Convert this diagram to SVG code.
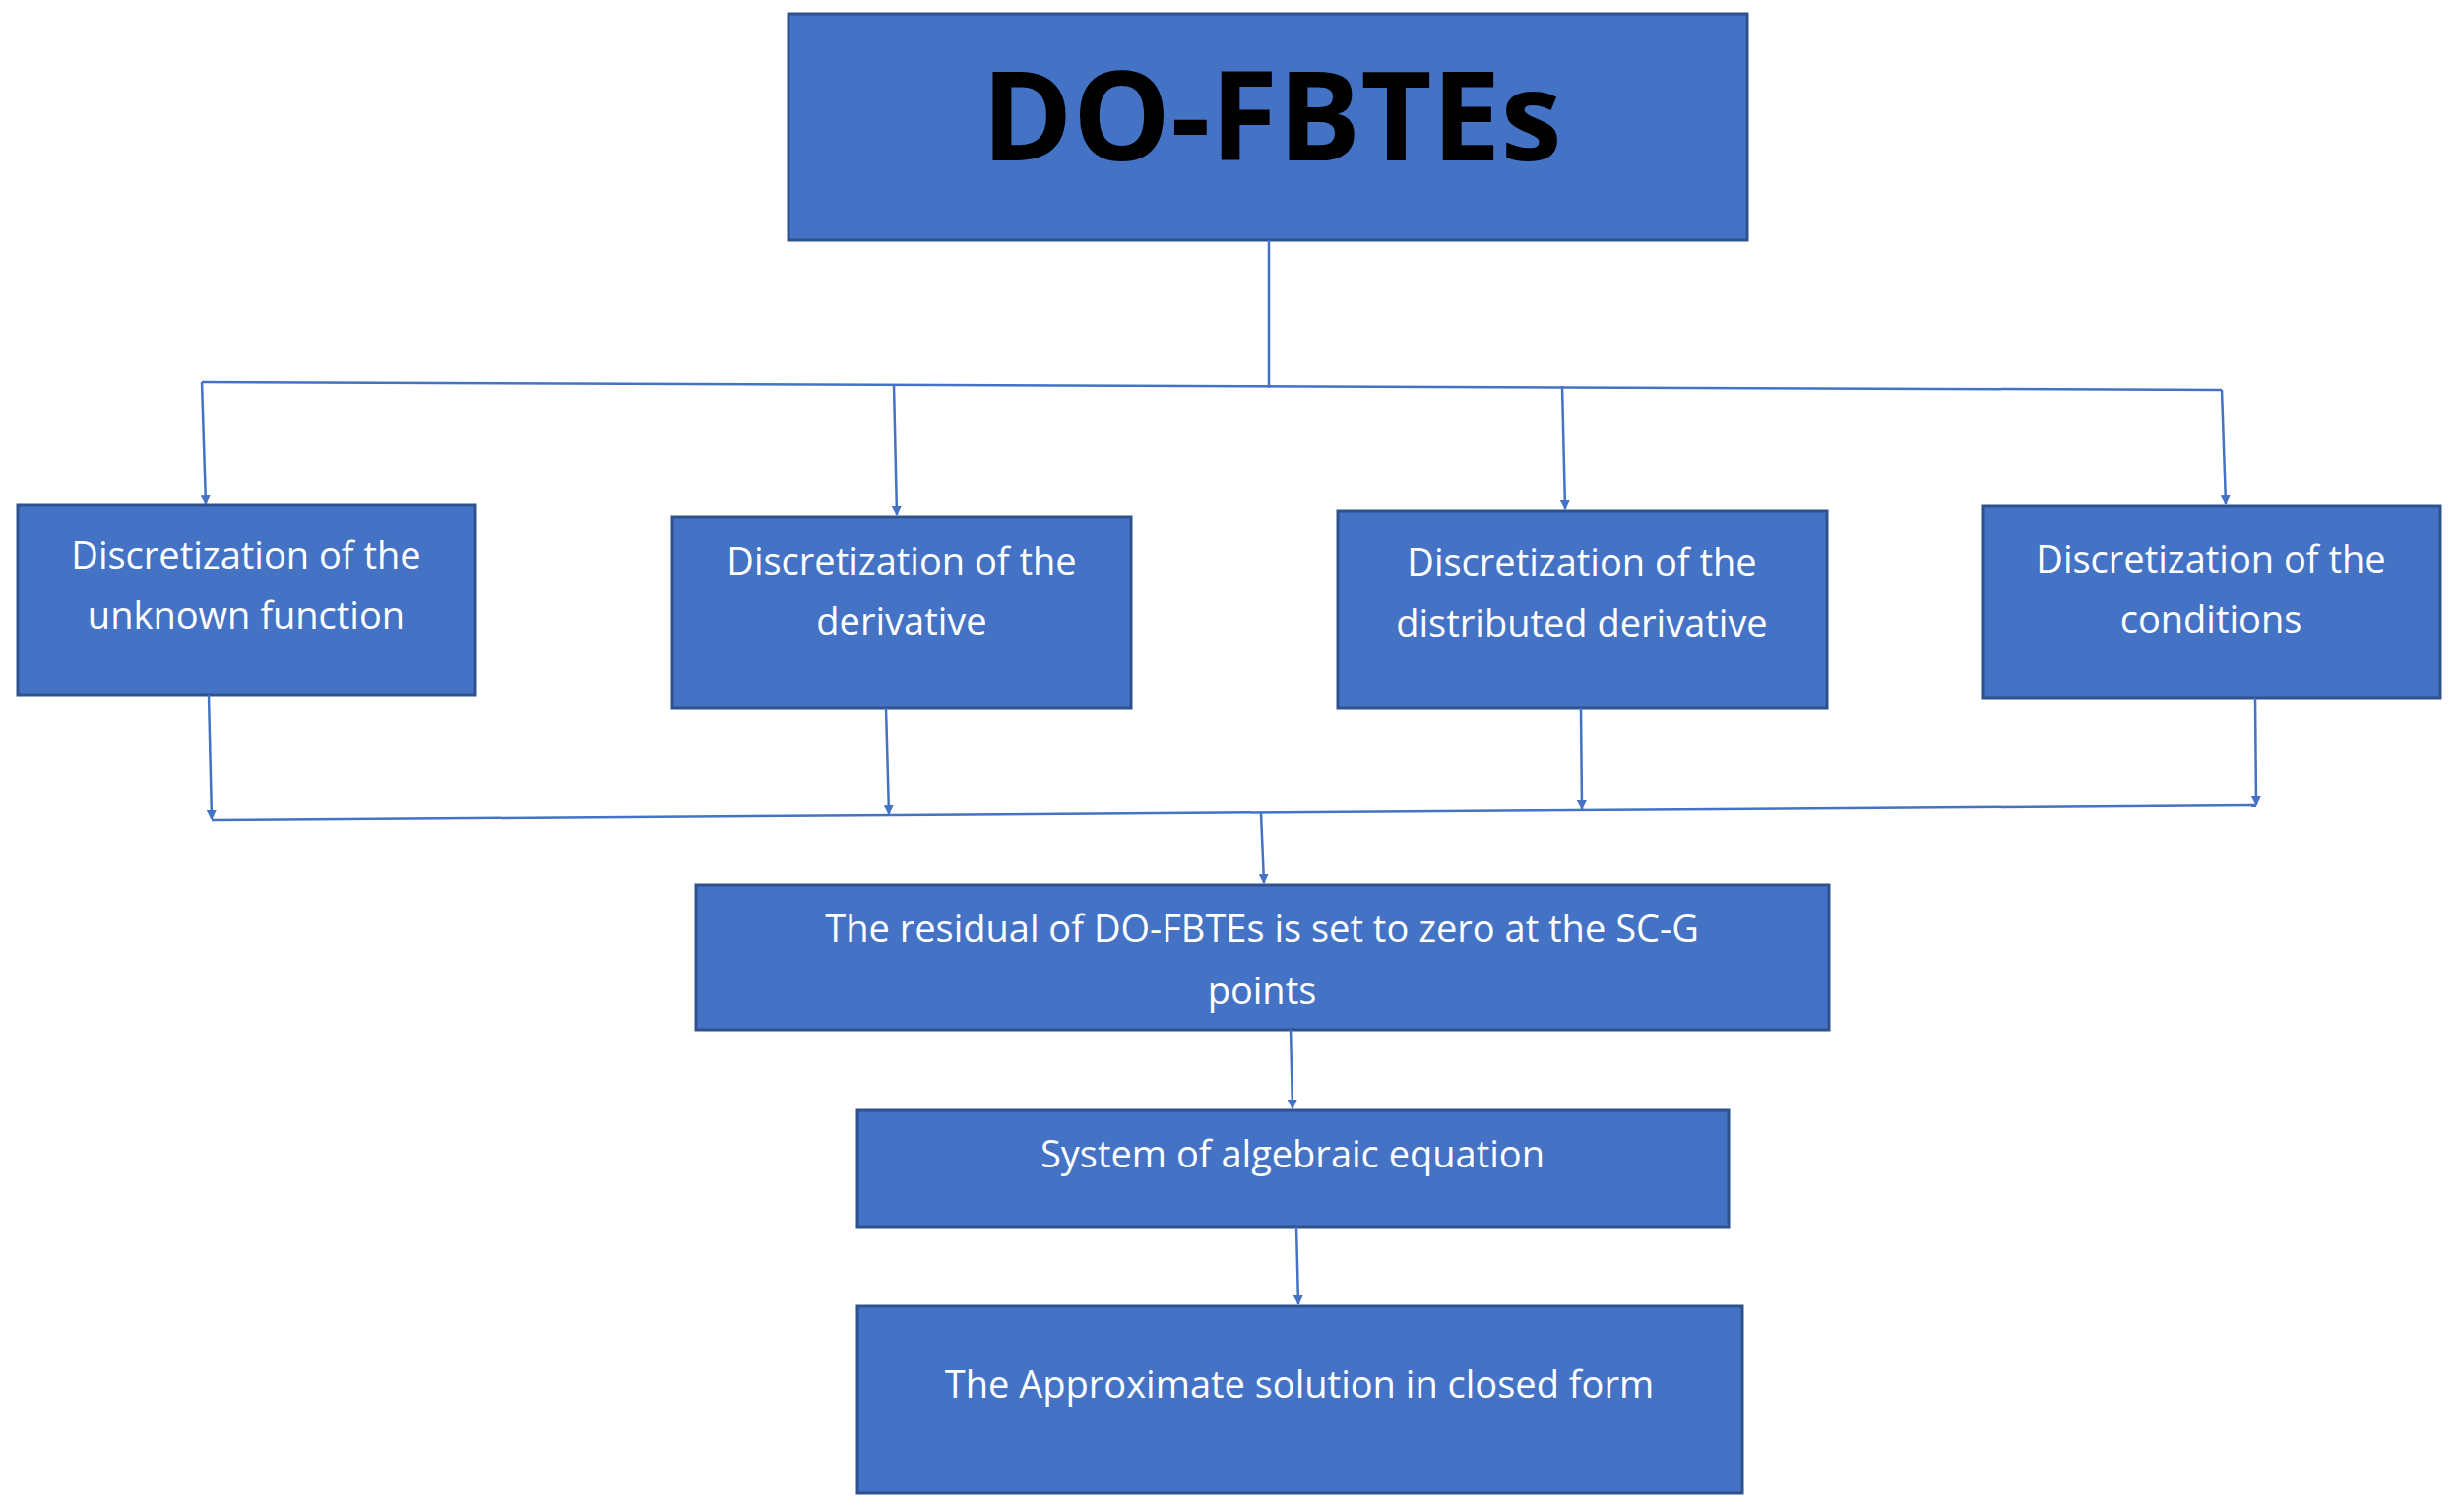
<svg xmlns="http://www.w3.org/2000/svg" width="2498" height="1536" viewBox="0 0 2498 1536">
<style>
.b{fill:#4472C4;stroke:#2F528F;stroke-width:3}
.t{fill:#fff;font-family:"Open Sans","Liberation Sans",sans-serif;font-size:38px;text-anchor:middle}
.c{stroke:#4472C4;stroke-width:2.5;fill:none}
</style>
<defs><marker id="a" markerWidth="10" markerHeight="10" refX="9" refY="5" orient="auto" markerUnits="userSpaceOnUse" viewBox="0 0 10 10"><path d="M0,0L10,5L0,10z" fill="#4472C4"/></marker></defs>
<rect width="2498" height="1536" fill="#fff"/>
<g id="n0"><rect class="b" x="801" y="14" width="974" height="230"/><text x="1292" y="163" font-family="'Open Sans','Liberation Sans',sans-serif" font-weight="bold" font-size="125" text-anchor="middle" fill="#000">DO-FBTEs</text></g>
<g id="n1"><rect class="b" x="18" y="513" width="465" height="193"/><text class="t" x="250" y="578">Discretization of the</text><text class="t" x="250" y="639">unknown function</text></g>
<g id="n2"><rect class="b" x="683" y="525" width="466" height="194"/><text class="t" x="916" y="584">Discretization of the</text><text class="t" x="916" y="645">derivative</text></g>
<g id="n3"><rect class="b" x="1359" y="519" width="497" height="200"/><text class="t" x="1607" y="585">Discretization of the</text><text class="t" x="1607" y="647">distributed derivative</text></g>
<g id="n4"><rect class="b" x="2014" y="514" width="465" height="195"/><text class="t" x="2246" y="582">Discretization of the</text><text class="t" x="2246" y="643">conditions</text></g>
<g id="n5"><rect class="b" x="707" y="899" width="1151" height="147"/><text class="t" x="1282" y="957">The residual of DO-FBTEs is set to zero at the SC-G</text><text class="t" x="1282" y="1020">points</text></g>
<g id="n6"><rect class="b" x="871" y="1128" width="885" height="118"/><text class="t" x="1313" y="1186">System of algebraic equation</text></g>
<g id="n7"><rect class="b" x="871" y="1327" width="899" height="190"/><text class="t" x="1320" y="1420">The Approximate solution in closed form</text></g>
<g id="connectors">
<path class="c" d="M1289,244L1289,394M205,388L2257,396"/>
<path class="c" marker-end="url(#a)" d="M205,388L209,512"/>
<path class="c" marker-end="url(#a)" d="M908,391L911,523"/>
<path class="c" marker-end="url(#a)" d="M1587,392L1590,517"/>
<path class="c" marker-end="url(#a)" d="M2257,396L2261,512"/>
<path class="c" marker-end="url(#a)" d="M212,706L215,832"/>
<path class="c" marker-end="url(#a)" d="M900,719L903,827"/>
<path class="c" marker-end="url(#a)" d="M1606,719L1607,822"/>
<path class="c" marker-end="url(#a)" d="M2291,709L2292,818"/>
<path class="c" d="M215,833L2292,818"/>
<path class="c" marker-end="url(#a)" d="M1281,826L1284,897"/>
<path class="c" marker-end="url(#a)" d="M1311,1046L1313,1126"/>
<path class="c" marker-end="url(#a)" d="M1317,1246L1319,1325"/>
</g>
</svg>
